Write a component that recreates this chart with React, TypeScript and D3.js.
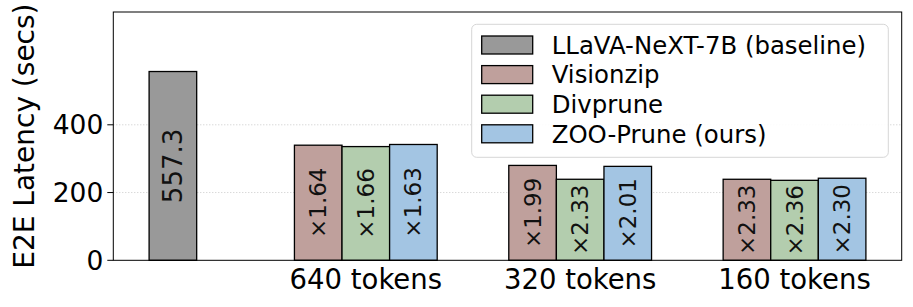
import React from 'react';
import * as d3 from 'd3';

// token budgets shown on x axis
const groups = ['640 tokens', '320 tokens', '160 tokens'];
const methods = ['Visionzip', 'Divprune', 'ZOO-Prune (ours)'];
const baselineName = 'LLaVA-NeXT-7B (baseline)';
const baselineLatency = 557.3;

// latency in secs per group
const visionzipLatency = [339.8, 280.1, 239.2];
const divpruneLatency = [335.7, 239.2, 236.1];
const zooLatency = [341.9, 277.3, 242.3];

// speedup labels printed inside bars
const visionzipSpeedup = ['1.64', '1.99', '2.33'];
const divpruneSpeedup = ['1.66', '2.33', '2.36'];
const zooSpeedup = ['1.63', '2.01', '2.30'];

const yTicks = [0, 200, 400];

const colors = ['#bfa09c', '#b3cdae', '#a3c5e3'];
const baselineColor = '#999999';

const W = 913;
const H = 307;
const font = 'DejaVu Sans, sans-serif';

const App = () => {
  const x = d3.scaleLinear().domain([-0.178, 3.5]).range([113.3, 901.7]);
  const y = d3.scaleLinear().domain([0, 733]).range([260.3, 12]);
  const barW = 0.222;
  const baseX = 0.1;
  const groupX = groups.map((_, i) => i + 1);

  const series = [
    { name: methods[0], vals: visionzipLatency, labels: visionzipSpeedup, color: colors[0] },
    { name: methods[1], vals: divpruneLatency, labels: divpruneSpeedup, color: colors[1] },
    { name: methods[2], vals: zooLatency, labels: zooSpeedup, color: colors[2] },
  ];

  const [x0, x1] = x.range();
  const [yb, yt] = y.range();

  const legendItems = [{ name: baselineName, color: baselineColor }, ...series];

  return (
    <svg width={W} height={H} style={{ position: 'absolute', left: 0, top: 0 }} fontFamily={font}>
      <rect width={W} height={H} fill="white" />
      {/* grid */}
      {yTicks.filter(t => t > 0).map(t => (
        <line key={t} x1={x0} x2={x1} y1={y(t)} y2={y(t)} stroke="#c8c8c8" strokeWidth={1} strokeDasharray="1,2" />
      ))}
      {/* baseline bar */}
      <rect x={x(baseX - barW / 2)} y={y(baselineLatency)} width={x(barW) - x(0)} height={y(0) - y(baselineLatency)}
        fill={baselineColor} stroke="black" strokeWidth={1.3} />
      <text transform={`translate(${x(baseX)},${y(baselineLatency / 2)}) rotate(-90)`} textAnchor="middle" dy="0.35em" fontSize={26} fill="#111">
        {baselineLatency.toFixed(1)}
      </text>
      {/* grouped bars */}
      {series.map((s, si) => (
        <g key={s.name}>
          {s.vals.map((v, gi) => {
            const cx = groupX[gi] + (si - 1) * barW;
            return (
              <g key={gi}>
                <rect x={x(cx - barW / 2)} y={y(v)} width={x(barW) - x(0)} height={y(0) - y(v)}
                  fill={s.color} stroke="black" strokeWidth={1.3} />
                <text transform={`translate(${x(cx)},${y(v / 2)}) rotate(-90)`} textAnchor="middle" dy="0.35em" fontSize={23} fill="#111">
                  {'×' + s.labels[gi]}
                </text>
              </g>
            );
          })}
        </g>
      ))}
      {/* frame */}
      <rect x={x0} y={yt} width={x1 - x0} height={yb - yt} fill="none" stroke="black" strokeWidth={1} />
      {/* y axis */}
      {yTicks.map(t => (
        <g key={t}>
          <line x1={x0 - 6} x2={x0} y1={y(t)} y2={y(t)} stroke="black" strokeWidth={1} />
          <text x={x0 - 10} y={y(t)} dy="0.36em" textAnchor="end" fontSize={26.5}>{t}</text>
        </g>
      ))}
      <text transform={`translate(34,${(yb + yt) / 2}) rotate(-90)`} textAnchor="middle" fontSize={28}>E2E Latency (secs)</text>
      {/* x labels */}
      {groups.map((g, i) => (
        <text key={g} x={x(groupX[i])} y={288.5} textAnchor="middle" fontSize={27.5}>{g}</text>
      ))}
      {/* legend */}
      <g>
        <rect x={471.7} y={24.3} width={416.6} height={133} rx={5} fill="white" fillOpacity={0.9} stroke="#d6d6d6" strokeWidth={1} />
        {legendItems.map((it, i) => (
          <g key={it.name} transform={`translate(481.7,${36 + i * 29.6})`}>
            <rect width={51} height={18} fill={it.color} stroke="black" strokeWidth={1.3} />
            <text x={70} y={9} dy="0.36em" fontSize={24.4}>{it.name}</text>
          </g>
        ))}
      </g>
    </svg>
  );
};

export default App;
